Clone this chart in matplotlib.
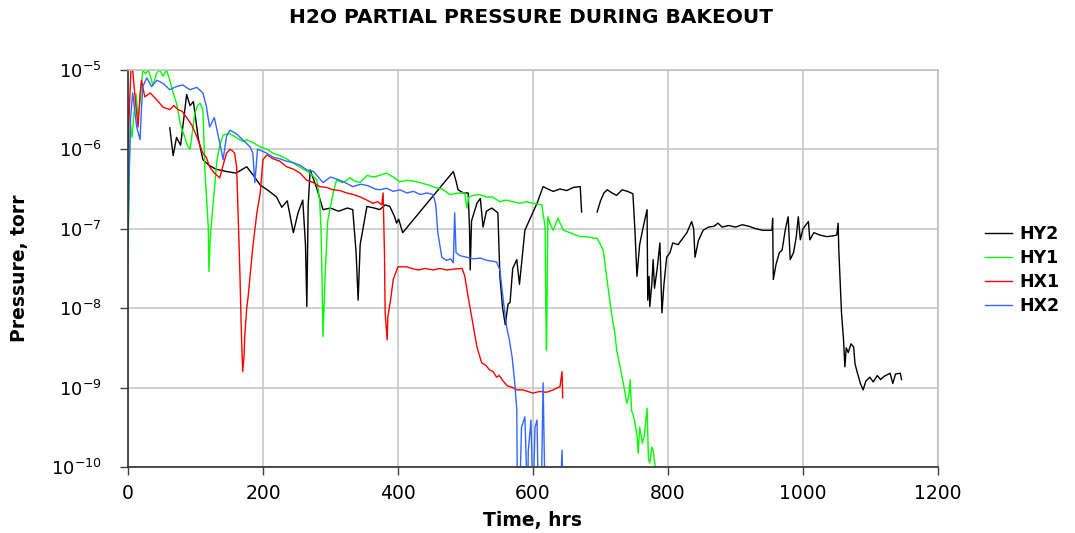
import numpy as np
import matplotlib
matplotlib.use("Agg")
from matplotlib import pyplot as plt

plt.rcParams['font.family'] = ['DejaVu Sans']
plt.rcParams['mathtext.fontset'] = 'dejavusans'

# time (hrs) and log10(pressure, torr); nan = gap in data
hy2_t = [62, 67, 72, 78, 83, 87, 92, 97, 104, 111, 120, 130, 146, 160, 176, 186, 196, 208, 220, 228,
         236, 245, 252, 259, 263, 265, 267, 270, 280, 289, 300, 312, 325, 333, 338, 341, 344, 354, 365, 373,
         381, 388, 395, 398, 401, 407, 482, 486, 489, 497, 504, 506, 507, 509, 517, 522, 526, 531, 539, 548,
         551, 555, 559, 563, 566, 570, 576, 580, 588, 597, 606, 615, 622, 630, 640, 650, 660, 670, 672, 680,
         695, 700, 705, 710, 717, 724, 732, 740, 748, 751, 754, 758, 764, 769, 770, 772, 773, 776, 778, 780,
         784, 788, 791, 794, 798, 803, 807, 815, 822, 828, 835, 838, 840, 845, 852, 860, 868, 874, 880, 890,
         900, 910, 920, 930, 940, 954, 955, 956, 960, 965, 969, 974, 978, 981, 986, 990, 993, 996, 1000, 1008,
         1010, 1016, 1025, 1035, 1045, 1050, 1052, 1053, 1057, 1060, 1062, 1064, 1067, 1071, 1075, 1077, 1080, 1085, 1089, 1093,
         1099, 1104, 1110, 1115, 1120, 1129, 1133, 1137, 1144, 1146]
hy2_logp = [-5.73, -6.08, -5.85, -5.95, -5.6, -5.31, -5.45, -5.4, -5.85, -6.13, -6.2, -6.25, -6.28, -6.3, -6.22, -6.33, -6.45, -6.52, -6.6, -6.73,
            -6.65, -7.05, -6.8, -6.64, -7.2, -7.98, -6.7, -6.26, -6.5, -6.76, -6.74, -6.78, -6.74, -6.76, -7.3, -7.9, -7.2, -6.72, -6.74, -6.76,
            -6.7, -6.72, -6.85, -6.93, -6.88, -7.05, -6.28, -6.4, -6.51, -6.55, -6.55, -7.0, -7.52, -6.9, -6.68, -6.62, -6.98, -6.78, -6.74, -6.8,
            -7.6, -8.0, -8.21, -7.95, -7.93, -7.5, -7.39, -7.7, -7.02, -6.85, -6.68, -6.47, -6.5, -6.53, -6.5, -6.52, -6.48, -6.47, -6.79, np.nan,
            -6.79, -6.65, -6.55, -6.51, -6.55, -6.58, -6.51, -6.53, -6.56, -7.02, -7.6, -7.2, -6.95, -6.76, -7.9, -7.6, -7.98, -7.7, -7.39, -7.75,
            -7.5, -7.18, -8.06, -7.7, -7.36, -7.3, -7.18, -7.2, -7.12, -7.05, -6.91, -7.0, -7.36, -7.15, -7.02, -6.98, -6.97, -6.93, -6.98, -6.96,
            -6.98, -6.95, -6.97, -7.0, -7.02, -7.02, -6.87, -7.64, -7.45, -7.3, -7.27, -7.0, -6.85, -7.39, -7.3, -7.1, -6.85, -7.14, -7.0, -6.91,
            -7.14, -7.05, -7.08, -7.1, -7.09, -7.08, -6.93, -7.27, -8.06, -8.4, -8.74, -8.5, -8.56, -8.45, -8.49, -8.7, -8.8, -8.95, -9.03, -8.92,
            -8.87, -8.93, -8.85, -8.9, -8.86, -8.82, -8.95, -8.83, -8.82, -8.9]

hy1_t = [0, 2, 4, 6, 9, 12, 15, 18, 22, 26, 30, 34, 37, 42, 47, 52, 57, 62, 67, 72,
         78, 84, 88, 92, 96, 99, 103, 107, 111, 114, 117, 119, 120, 122, 126, 132, 136, 141, 150, 160,
         170, 176, 186, 196, 206, 215, 225, 235, 250, 260, 270, 280, 284, 286, 287, 289, 292, 296, 304, 309,
         318, 329, 336, 344, 354, 365, 375, 383, 393, 403, 413, 423, 433, 445, 455, 465, 477, 490, 499, 502,
         505, 512, 521, 530, 540, 551, 560, 570, 580, 590, 600, 613, 618, 619, 620, 621, 622, 626, 630, 637,
         645, 655, 663, 670, 680, 690, 695, 700, 704, 709, 713, 717, 721, 724, 728, 732, 735, 739, 742, 744,
         746, 748, 751, 754, 756, 758, 762, 765, 769, 771, 773, 776, 778, 781, 783]
hy1_logp = [-7.42, -6.3, -5.7, -5.85, -5.55, -5.3, -5.6, -5.4, -5.0, -5.05, -5.0, -5.1, -5.2, -5.05, -5.0, -5.08, -5.0, -5.13, -5.29, -5.42,
            -5.7, -5.84, -5.95, -6.0, -5.75, -5.55, -5.45, -5.42, -5.5, -6.26, -6.7, -6.98, -7.54, -7.1, -6.7, -6.13, -5.95, -5.82, -5.8, -5.85,
            -5.9, -5.88, -5.92, -5.97, -6.0, -6.05, -6.08, -6.12, -6.2, -6.25, -6.3, -6.39, -6.64, -7.0, -7.39, -8.36, -7.6, -6.9, -6.55, -6.39,
            -6.42, -6.36, -6.4, -6.42, -6.33, -6.35, -6.32, -6.3, -6.35, -6.41, -6.39, -6.4, -6.42, -6.45, -6.48, -6.5, -6.57, -6.55, -6.55, -6.74,
            -6.6, -6.58, -6.57, -6.6, -6.6, -6.66, -6.64, -6.66, -6.68, -6.66, -6.68, -6.7, -6.98, -8.0, -8.53, -7.8, -6.85, -6.95, -7.02, -6.87,
            -7.02, -7.05, -7.08, -7.1, -7.1, -7.12, -7.12, -7.2, -7.27, -7.6, -7.85, -8.11, -8.3, -8.53, -8.7, -8.87, -9.0, -9.2, -9.1, -8.9,
            -9.3, -9.33, -9.45, -9.6, -9.83, -9.5, -9.7, -9.6, -9.26, -9.9, -9.95, -9.75, -9.79, -10.0, -10.1]

hx1_t = [0, 3, 5, 7, 10, 13, 15, 18, 20, 25, 33, 43, 52, 62, 68, 74, 80, 87, 95, 102,
         111, 116, 121, 128, 136, 141, 146, 151, 155, 158, 161, 163, 166, 168, 170, 172, 173, 176, 178, 182,
         185, 191, 196, 200, 206, 215, 225, 235, 245, 255, 265, 275, 284, 294, 304, 314, 324, 334, 344, 354,
         363, 370, 376, 378, 380, 381, 384, 385, 389, 393, 400, 413, 420, 430, 440, 452, 462, 472, 482, 495,
         499, 504, 510, 517, 524, 530, 536, 541, 546, 550, 556, 562, 570, 576, 585, 592, 600, 610, 620, 630,
         637, 640, 643, 644]
hx1_logp = [-6.0, -5.3, -4.9, -5.0, -5.29, -5.55, -5.72, -5.3, -5.13, -5.34, -5.29, -5.38, -5.47, -5.5, -5.45, -5.5, -5.52, -5.6, -5.7, -5.84,
            -6.05, -6.1, -6.22, -6.3, -6.36, -6.2, -6.05, -6.0, -6.02, -6.05, -6.22, -6.76, -7.6, -8.3, -8.8, -8.6, -8.36, -8.0, -7.86, -7.5,
            -7.23, -6.8, -6.55, -6.13, -6.07, -6.12, -6.15, -6.22, -6.25, -6.3, -6.39, -6.42, -6.47, -6.48, -6.51, -6.52, -6.55, -6.57, -6.6, -6.64,
            -6.68, -6.66, -6.7, -6.55, -7.3, -8.06, -8.4, -8.11, -7.9, -7.64, -7.48, -7.48, -7.5, -7.52, -7.5, -7.52, -7.5, -7.52, -7.51, -7.5,
            -7.6, -7.86, -8.15, -8.49, -8.69, -8.72, -8.78, -8.8, -8.87, -8.85, -8.92, -8.98, -9.0, -9.03, -9.03, -9.05, -9.07, -9.05, -9.06, -9.03,
            -9.0, -8.99, -8.8, -9.13]

hx2_t = [0, 2, 4, 7, 10, 13, 18, 20, 22, 28, 35, 43, 52, 62, 72, 81, 92, 102, 111, 116,
         121, 128, 136, 141, 146, 151, 160, 170, 181, 185, 188, 192, 198, 206, 215, 225, 235, 245, 255, 265,
         275, 289, 300, 311, 322, 333, 345, 356, 366, 373, 383, 393, 403, 413, 423, 433, 443, 452, 456, 459,
         465, 472, 478, 482, 484, 486, 492, 502, 512, 522, 532, 540, 546, 551, 556, 561, 565, 569, 573, 576,
         577, 580, 583, 588, 592, 593, 597, 600, 603, 606, 608, 612, 615, 618, 620, 630, 640, 643, 645]
hx2_logp = [-7.2, -6.2, -5.6, -5.29, -5.5, -5.72, -5.88, -5.5, -5.21, -5.1, -5.21, -5.13, -5.17, -5.25, -5.21, -5.19, -5.25, -5.22, -5.29, -5.45,
            -5.72, -5.6, -5.92, -6.13, -5.84, -5.76, -5.8, -5.88, -5.97, -6.05, -6.42, -6.0, -6.02, -6.05, -6.1, -6.12, -6.15, -6.17, -6.2, -6.26,
            -6.28, -6.42, -6.35, -6.38, -6.42, -6.47, -6.44, -6.46, -6.5, -6.51, -6.49, -6.53, -6.51, -6.55, -6.53, -6.57, -6.55, -6.57, -6.7, -7.05,
            -7.36, -7.4, -7.38, -7.43, -6.8, -7.3, -7.34, -7.36, -7.38, -7.37, -7.4, -7.41, -7.42, -7.52, -7.9, -8.24, -8.4, -8.61, -8.94, -9.28,
            -10.5, -10.5, -9.5, -9.37, -10.5, -9.8, -9.41, -10.5, -9.5, -9.41, -10.5, -10.5, -8.94, -10.5, -10.5, -10.5, -10.5, -9.79, -10.5]

series = [
    ("HY2", hy2_t, hy2_logp, "black"),
    ("HY1", hy1_t, hy1_logp, "#00ff00"),
    ("HX1", hx1_t, hx1_logp, "#ff0000"),
    ("HX2", hx2_t, hx2_logp, "#3366ff"),
]

fig = plt.figure(figsize=(10.75, 5.33), dpi=100)
ax = fig.add_axes([0.119, 0.124, 0.7536, 0.7449])

for name, t, lp, col in series:
    assert len(t) == len(lp), name
    ax.plot(t, 10 ** np.array(lp, dtype=float), color=col, lw=1.0, label=name)

ax.set_yscale("log")
ax.set_xlim(0, 1200)
ax.set_ylim(1e-10, 1e-5)
ax.set_xticks(range(0, 1201, 200))
ax.set_yticks([10.0 ** k for k in range(-10, -4)])
ax.set_yticklabels([r"$\mathregular{10^{%d}}$" % k for k in range(-10, -4)])
ax.yaxis.set_minor_locator(matplotlib.ticker.NullLocator())
ax.tick_params(length=6, width=1, color="#404040")
ax.tick_params(axis="x", labelsize=13.5, pad=6)
ax.tick_params(axis="y", labelsize=13, pad=13)
ax.grid(True, color="#c8c8c8", lw=1.2)
ax.set_axisbelow(True)
for s in ("top", "right"):
    ax.spines[s].set_color("#c0c0c0")
    ax.spines[s].set_linewidth(1.2)
for s in ("left", "bottom"):
    ax.spines[s].set_color("#303030")
    ax.spines[s].set_linewidth(1.2)

ax.set_xlabel("Time, hrs", fontsize=13.5, fontweight="bold", labelpad=6)
ax.set_ylabel("Pressure, torr", fontsize=13.5, fontweight="bold")
ax.yaxis.set_label_coords(-0.122, 0.5)
fig.text(0.494, 0.967, "H2O PARTIAL PRESSURE DURING BAKEOUT", ha="center", va="center",
         fontsize=14.5, fontweight="bold")

fig.legend(loc="center left", bbox_to_anchor=(0.916, 0.493), frameon=False,
           prop={"size": 12.5, "weight": "bold"}, handlelength=1.6, handletextpad=0.4,
           labelspacing=0.35, borderpad=0, borderaxespad=0)

fig.savefig("out.png", dpi=100)
